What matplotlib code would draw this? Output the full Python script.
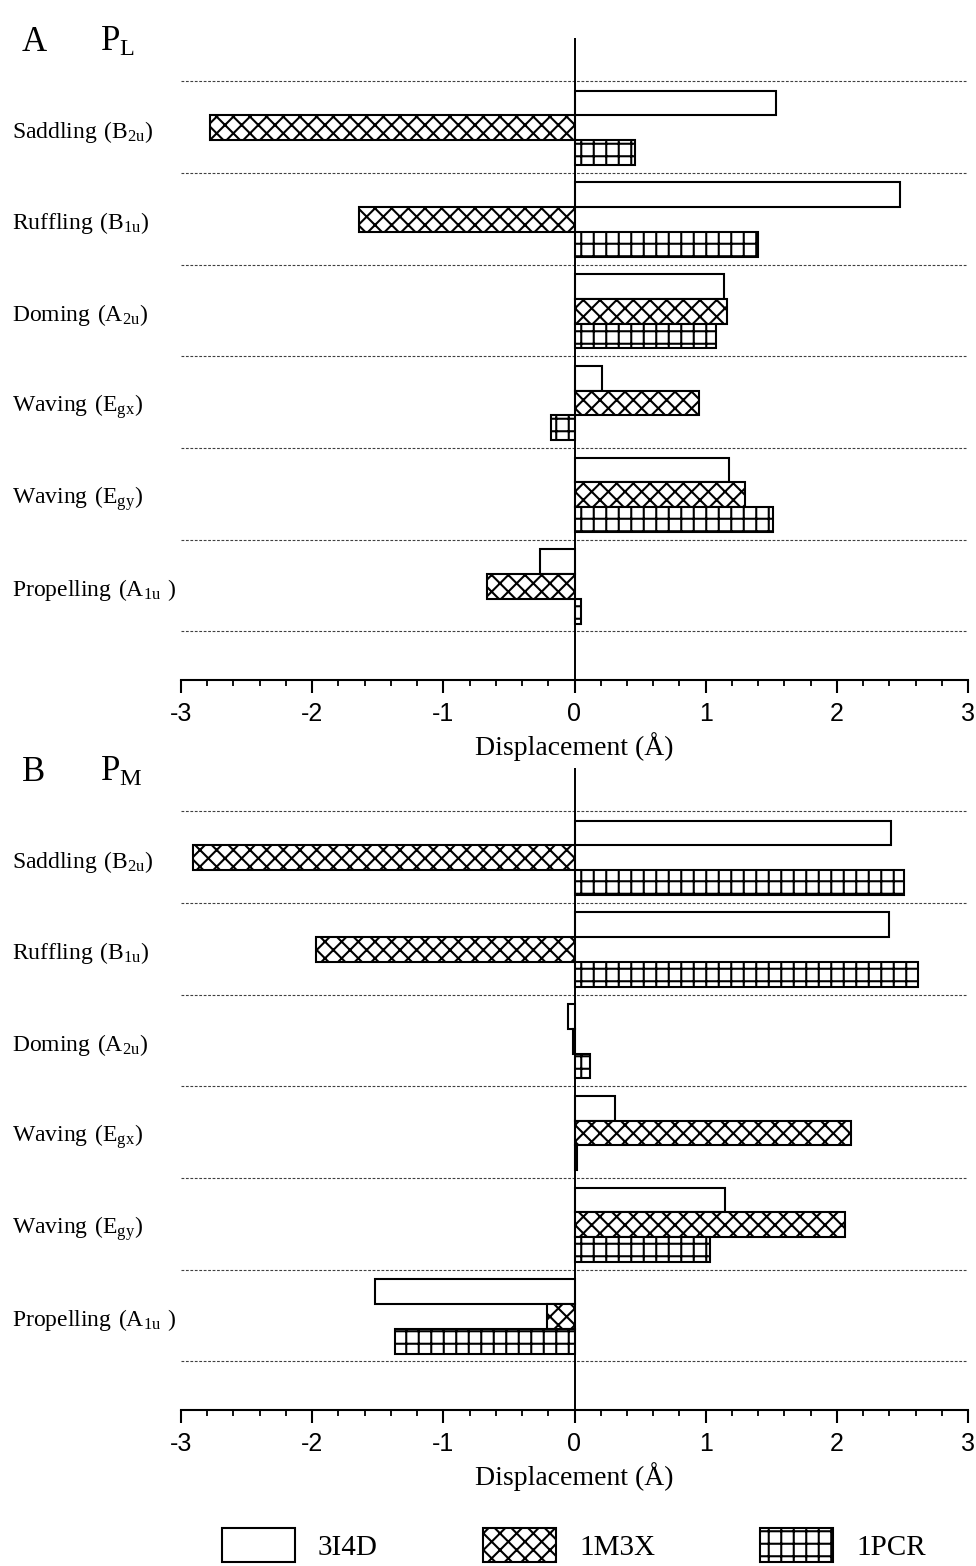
import matplotlib
matplotlib.use('Agg')
import matplotlib.pyplot as plt
import matplotlib.hatch as mhatch
import matplotlib.transforms as mtransforms
from matplotlib.patches import Patch
from matplotlib.ticker import MultipleLocator
import numpy as np

modes = ['Saddling (B_{2u})', 'Ruffling (B_{1u})', 'Doming (A_{2u})',
         'Waving (E_{gx})', 'Waving (E_{gy})', 'Propelling (A_{1u} )']
structures = ['3I4D', '1M3X', '1PCR']
hatches = ['', 'xx', '+']

# displacement per mode, rows follow `structures`
pl_values = [
    [1.54, 2.48, 1.14, 0.21, 1.18, -0.26],
    [-2.78, -1.64, 1.16, 0.95, 1.30, -0.67],
    [0.46, 1.40, 1.08, -0.18, 1.51, 0.05],
]
pm_values = [
    [2.41, 2.40, -0.05, 0.31, 1.15, -1.52],
    [-2.91, -1.97, -0.01, 2.11, 2.06, -0.21],
    [2.51, 2.62, 0.12, 0.02, 1.03, -1.37],
]

plt.rcParams['hatch.linewidth'] = 1.5
plt.rcParams['font.family'] = 'Liberation Serif'
plt.rcParams['mathtext.fontset'] = 'custom'
plt.rcParams['mathtext.rm'] = 'Liberation Serif'
plt.rcParams['axes.unicode_minus'] = False

# slightly finer grid for the '+' hatch than the default six lines per inch
_hatch_path = mhatch.get_path


def _get_path(pattern, density=6):
    if pattern == '+':
        density = 8
    return _hatch_path(pattern, density)


mhatch.get_path = _get_path


def draw_panel(ax, values, letter, sub):
    fig = ax.figure
    y = np.arange(len(modes))
    h = 0.27
    for k, (vals, hatch) in enumerate(zip(values, hatches)):
        ax.barh(y + (k - 1) * h + 0.01, vals, height=h, color='white',
                edgecolor='black', linewidth=1.5, hatch=hatch, zorder=2)
    for yy in np.arange(-0.5, len(modes), 1.0):
        ax.axhline(yy, color='0.25', lw=0.8, ls=(0, (2.5, 1.5)), zorder=1)
    ax.axvline(0, color='black', lw=1.4, zorder=3)
    ax.set_xlim(-3, 3)
    ax.set_ylim(6.03, -0.97)
    for s in ['left', 'right', 'top']:
        ax.spines[s].set_visible(False)
    ax.spines['bottom'].set_linewidth(1.5)
    ax.set_yticks([])
    ax.xaxis.set_major_locator(MultipleLocator(1))
    ax.xaxis.set_minor_locator(MultipleLocator(0.2))
    ax.tick_params(axis='x', which='major', length=9, width=1.5, pad=7,
                   labelsize=18)
    ax.tick_params(axis='x', which='minor', length=4, width=1.3)
    for lbl in ax.get_xticklabels():
        lbl.set_family('Liberation Sans')
    ax.set_xlabel('Displacement (Å)', fontsize=20, labelpad=4)

    trans = mtransforms.blended_transform_factory(fig.transFigure, ax.transData)
    for yy, name in zip(y, modes):
        ax.text(12 / 976, yy + 0.05, '$\\mathregular{' + name.replace(' ', '\\ ') + '}$',
                transform=trans, fontsize=17, ha='left', va='center')
    top = ax.get_position().y1
    fig.text(22 / 976, top - 0.003, letter, fontsize=25, ha='left', va='center')
    fig.text(100 / 976, top - 0.003, '$\\mathregular{P_{' + sub + '}}$',
             fontsize=25, ha='left', va='center')


fig = plt.figure(figsize=(9.76, 15.66), dpi=100)
ax_a = fig.add_axes([181 / 976, 1 - 680 / 1566, 787 / 976, 642 / 1566])
ax_b = fig.add_axes([181 / 976, 1 - 1410 / 1566, 787 / 976, 642 / 1566])

draw_panel(ax_a, pl_values, 'A', 'L')
draw_panel(ax_b, pm_values, 'B', 'M')

handles = [Patch(facecolor='white', edgecolor='black', linewidth=1.5, hatch=h)
           for h in hatches]
fig.legend(handles, structures, loc='lower center', bbox_to_anchor=(0.588, -0.014),
           ncol=3, frameon=False, fontsize=21, handlelength=2.5,
           handleheight=1.4, handletextpad=0.8, columnspacing=3.6)

fig.savefig('out.png', dpi=100)
